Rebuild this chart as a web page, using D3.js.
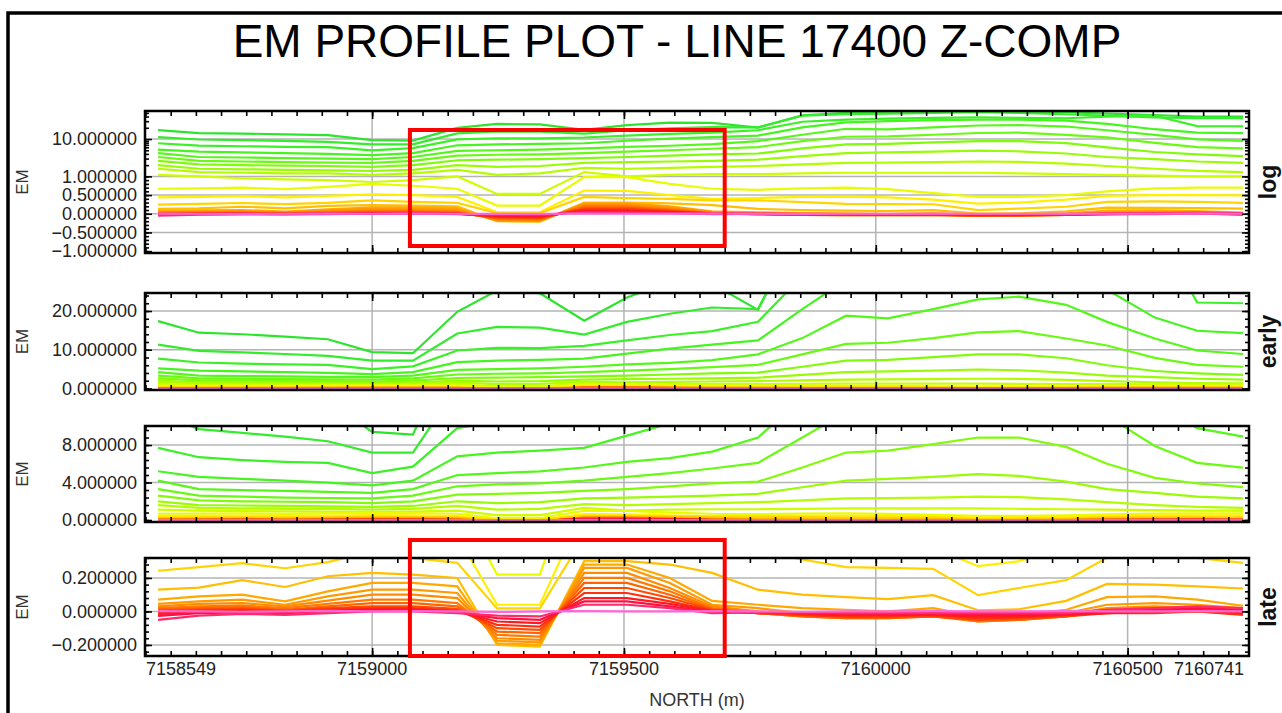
<!DOCTYPE html>
<html>
<head>
<meta charset="utf-8">
<script src="https://cdn.jsdelivr.net/npm/d3@7"></script>
<style>
  body { margin: 0; background: #fff; }
  text { font-family: "Liberation Sans", Arial, sans-serif; }
</style>
</head>
<body>
<svg id="chart" width="1282" height="713"></svg>
<script>
// station positions along the line (m)
const northing = [7158575, 7158656, 7158742, 7158827, 7158912, 7159000, 7159081, 7159169, 7159248,
  7159333, 7159421, 7159506, 7159591, 7159675, 7159766, 7159854, 7159941, 7160024, 7160114,
  7160203, 7160284, 7160378, 7160459, 7160554, 7160638, 7160729]
const xTickLabels = [7158549, 7159000, 7159500, 7160000, 7160500, 7160741]

// EM channels, early -> late
const ch01 = [17.4, 14.4, 14.0, 13.4, 12.7, 9.4, 9.1, 19.8, 25.3, 24.6, 17.5, 23.5, 27.5, 27, 20.3, 43, 50, 54, 56, 57, 55, 52, 48, 44, 40, 40]
const ch02 = [11.3, 9.7, 9.3, 8.9, 8.4, 7.2, 7.2, 14.2, 15.9, 15.7, 13.9, 17.2, 19.3, 20.9, 20.5, 42, 46, 48, 50, 52, 50, 46, 42, 38, 36, 36]
const ch03 = [7.7, 6.7, 6.4, 6.2, 6.1, 5.0, 5.7, 9.8, 10.5, 10.4, 11.0, 12.4, 13.8, 14.8, 17.2, 29, 33, 35, 37, 38, 37, 36, 40, 42, 22.2, 22.0]
const ch04 = [5.2, 4.6, 4.4, 4.2, 4.0, 3.7, 4.2, 6.8, 7.2, 7.4, 7.7, 9.0, 10.3, 11.3, 12.4, 20.5, 28, 30, 32, 33, 33, 31, 25.5, 18.3, 14.9, 14.3]
const ch05 = [4.2, 3.3, 3.2, 3.1, 3.0, 2.9, 3.3, 4.8, 5.0, 5.2, 5.6, 6.2, 6.6, 7.3, 8.8, 13.0, 18.8, 18.1, 20.5, 23.0, 23.7, 21.6, 17.2, 12.9, 9.8, 8.9]
const ch06 = [3.3, 2.6, 2.5, 2.4, 2.35, 2.3, 2.6, 3.6, 3.8, 3.9, 4.2, 4.6, 5.0, 5.5, 6.1, 8.8, 11.5, 11.8, 13.0, 14.5, 14.8, 12.9, 11.1, 7.9, 6.1, 5.6]
const ch07 = [2.6, 2.1, 2.0, 1.95, 1.9, 1.8, 2.0, 2.7, 2.8, 2.9, 3.1, 3.3, 3.6, 3.9, 4.1, 5.6, 7.2, 7.4, 8.1, 8.8, 8.8, 7.8, 6.0, 4.5, 3.9, 3.5]
const ch08 = [2.0, 1.6, 1.55, 1.5, 1.45, 1.4, 1.5, 2.0, 1.8, 1.9, 2.3, 2.4, 2.5, 2.6, 2.8, 3.5, 4.2, 4.4, 4.6, 4.9, 4.7, 4.1, 3.3, 2.9, 2.5, 2.3]
const ch09 = [1.6, 1.3, 1.25, 1.2, 1.2, 1.1, 1.2, 1.5, 1.1, 1.2, 1.7, 1.6, 1.7, 1.8, 1.9, 2.1, 2.3, 2.35, 2.4, 2.5, 2.45, 2.2, 1.9, 1.6, 1.4, 1.3]
const ch10 = [1.1, 1.0, 0.95, 0.92, 0.9, 0.85, 0.9, 1.0, 0.53, 0.53, 1.3, 1.0, 1.1, 1.15, 1.15, 1.2, 1.25, 1.25, 1.25, 1.25, 1.2, 1.15, 1.1, 1.05, 1.0, 1.0]
const ch11 = [0.67, 0.68, 0.7, 0.66, 0.72, 0.8, 0.75, 0.67, 0.22, 0.22, 0.98, 0.98, 0.8, 0.67, 0.64, 0.68, 0.7, 0.66, 0.55, 0.45, 0.45, 0.5, 0.6, 0.68, 0.7, 0.7]
const ch12 = [0.44, 0.45, 0.47, 0.44, 0.48, 0.52, 0.5, 0.45, 0.04, 0.04, 0.62, 0.61, 0.5, 0.4, 0.42, 0.45, 0.46, 0.44, 0.38, 0.27, 0.3, 0.38, 0.48, 0.5, 0.5, 0.49]
const ch13 = [0.243, 0.265, 0.288, 0.258, 0.294, 0.36, 0.32, 0.29, 0.018, 0.018, 0.45, 0.42, 0.4, 0.36, 0.36, 0.31, 0.265, 0.26, 0.254, 0.097, 0.14, 0.187, 0.32, 0.33, 0.32, 0.29]
const ch14 = [0.13, 0.142, 0.187, 0.146, 0.21, 0.23, 0.22, 0.2, -0.2, -0.21, 0.3, 0.3, 0.28, 0.23, 0.13, 0.1, 0.085, 0.074, 0.097, 0.007, 0.013, 0.063, 0.164, 0.16, 0.15, 0.137]
const ch15 = [0.07, 0.09, 0.1, 0.06, 0.12, 0.17, 0.17, 0.15, -0.19, -0.2, 0.28, 0.28, 0.2, 0.063, 0.04, 0.02, 0.01, 0.0, 0.02, -0.03, -0.02, 0.01, 0.085, 0.09, 0.07, 0.034]
const ch16 = [0.045, 0.06, 0.07, 0.04, 0.09, 0.13, 0.13, 0.11, -0.175, -0.185, 0.26, 0.26, 0.17, 0.04, 0.02, -0.01, -0.02, -0.02, -0.01, -0.05, -0.04, -0.01, 0.04, 0.05, 0.04, 0.02]
const ch17 = [0.03, 0.045, 0.05, 0.03, 0.065, 0.1, 0.1, 0.08, -0.16, -0.17, 0.23, 0.23, 0.14, 0.03, 0.0, -0.02, -0.03, -0.03, -0.02, -0.06, -0.05, -0.02, 0.02, 0.03, 0.02, 0.01]
const ch18 = [0.02, 0.03, 0.035, 0.02, 0.045, 0.07, 0.07, 0.05, -0.14, -0.15, 0.2, 0.2, 0.12, 0.02, -0.01, -0.03, -0.04, -0.04, -0.03, -0.06, -0.05, -0.03, 0.01, 0.02, 0.015, 0.0]
const ch19 = [0.012, 0.02, 0.025, 0.01, 0.03, 0.05, 0.05, 0.03, -0.12, -0.13, 0.17, 0.17, 0.1, 0.015, -0.01, -0.03, -0.04, -0.04, -0.03, -0.05, -0.05, -0.03, 0.0, 0.01, 0.01, -0.01]
const ch20 = [0.005, 0.012, 0.015, 0.005, 0.02, 0.03, 0.03, 0.015, -0.1, -0.11, 0.14, 0.14, 0.08, 0.01, -0.01, -0.02, -0.03, -0.03, -0.03, -0.05, -0.04, -0.03, -0.01, 0.0, 0.0, -0.015]
const ch21 = [-0.005, 0.005, 0.01, 0.0, 0.012, 0.02, 0.02, 0.005, -0.08, -0.09, 0.11, 0.11, 0.06, 0.005, -0.01, -0.02, -0.03, -0.03, -0.02, -0.04, -0.035, -0.02, -0.01, -0.01, 0.0, -0.02]
const ch22 = [-0.015, -0.005, 0.0, -0.005, 0.005, 0.012, 0.012, 0.0, -0.06, -0.07, 0.08, 0.08, 0.045, 0.0, -0.005, -0.01, -0.02, -0.02, -0.02, -0.03, -0.03, -0.02, -0.01, 0.0, 0.01, -0.01]
const ch23 = [-0.027, -0.01, -0.005, -0.01, 0.0, 0.006, 0.006, -0.005, -0.04, -0.05, 0.06, 0.06, 0.03, -0.005, -0.005, -0.01, -0.01, -0.015, -0.01, -0.02, -0.02, -0.015, 0.0, 0.01, 0.02, 0.01]
const ch24 = [-0.05, -0.025, -0.015, -0.02, -0.01, 0.0, 0.0, -0.01, -0.025, -0.03, 0.04, 0.04, 0.02, -0.01, -0.005, -0.005, -0.01, -0.01, -0.01, -0.01, -0.01, -0.01, 0.01, 0.02, 0.03, 0.02]
const ch25 = [0.002, 0.0, -0.002, 0.0, 0.003, 0.0, 0.002, 0.0, -0.003, 0.0, 0.002, 0.0, 0.0, 0.002, 0.0, -0.002, 0.0, 0.0, 0.002, 0.0, 0.0, 0.002, 0.0, 0.0, 0.002, 0.0]
const channels = [ch01, ch02, ch03, ch04, ch05, ch06, ch07, ch08, ch09, ch10, ch11, ch12, ch13,
  ch14, ch15, ch16, ch17, ch18, ch19, ch20, ch21, ch22, ch23, ch24, ch25]

const channelColors = ['#2de42d', '#33ec2b', '#3bf026', '#46f420', '#55f71a', '#68fa12', '#80fb0a',
  '#9afc04', '#b4fd00', '#cefd00', '#eafc00', '#fff000', '#ffd400', '#ffbe00', '#ffa800', '#ff9a00',
  '#ff8c00', '#ff7a00', '#ff6400', '#ff4a00', '#ff3010', '#ff1a20', '#ff1040', '#ff2a68', '#ff66dd']

// y tick labels per panel
const logTicks = [10, 1, 0.5, 0, -0.5, -1]
const earlyTicks = [0, 10, 20]
const midTicks = [0, 4, 8]
const lateTicks = [-0.2, 0, 0.2]

const W = 1282, H = 713
const left = 145, right = 1249

const svg = d3.select('#chart')

// outer frame (only left & top visible)
svg.append('path')
    .attr('d', `M8,${H}V13H${W}`)
    .attr('fill', 'none')
    .attr('stroke', '#000')
    .attr('stroke-width', 3.5)

svg.append('text')
    .attr('x', 677).attr('y', 57)
    .attr('text-anchor', 'middle')
    .attr('font-size', 46)
    .attr('fill', '#000')
    .text('EM PROFILE PLOT - LINE 17400 Z-COMP')

const x = d3.scaleLinear().domain([7158549, 7160741]).range([left, right])

const logFwd = v => Math.abs(v) <= 1 ? v : Math.sign(v) * (1 + Math.log10(Math.abs(v)))
const linFwd = v => v

const logMinor = d3.range(-10, 11).map(d => d / 10)
    .concat([2, 3, 4, 5, 6, 7, 8, 9, 20, 30, 40, 50])

const panels = [
    { top: 111, bottom: 253, fwd: logFwd, domain: [-1.05, 2.75], ticks: logTicks,
      grid: [10, 1, 0.5, 0, -0.5], minor: logMinor, label: 'log' },
    { top: 293, bottom: 390, fwd: linFwd, domain: [-0.4, 24.65], ticks: earlyTicks,
      grid: [10, 20], minor: d3.range(0, 25, 2), label: 'early' },
    { top: 426, bottom: 522, fwd: linFwd, domain: [-0.21, 10.03], ticks: midTicks,
      grid: [4, 8], minor: d3.range(0, 10.01, 0.8), label: '' },
    { top: 558, bottom: 656, fwd: linFwd, domain: [-0.266, 0.319], ticks: lateTicks,
      grid: [-0.2, 0, 0.2], minor: d3.range(-0.24, 0.32, 0.04), label: 'late' }
]

const xGrid = [7159000, 7159500, 7160000, 7160500]
const xMinor = d3.range(7158550, 7160741, 50)

panels.forEach((p, k) => {
    const ys = d3.scaleLinear().domain(p.domain).range([p.bottom, p.top])
    const y = v => ys(p.fwd(v))
    const g = svg.append('g')

    g.append('clipPath').attr('id', 'clip' + k)
        .append('rect')
        .attr('x', left).attr('y', p.top)
        .attr('width', right - left).attr('height', p.bottom - p.top)

    // grid
    g.append('g').selectAll('line').data(p.grid).join('line')
        .attr('x1', left).attr('x2', right)
        .attr('y1', d => y(d)).attr('y2', d => y(d))
        .attr('stroke', '#b4b4b4').attr('stroke-width', 1.5)
    g.append('g').selectAll('line').data(xGrid).join('line')
        .attr('x1', d => x(d)).attr('x2', d => x(d))
        .attr('y1', p.top).attr('y2', p.bottom)
        .attr('stroke', '#b4b4b4').attr('stroke-width', 1.5)

    // channel profiles
    const line = d3.line()
        .defined(d => d != null)
        .x((d, i) => x(northing[i]))
        .y(d => y(d))
    g.append('g').attr('clip-path', `url(#clip${k})`)
        .selectAll('path').data(channels).join('path')
        .attr('d', line)
        .attr('fill', 'none')
        .attr('stroke', (d, i) => channelColors[i])
        .attr('stroke-width', 2.2)

    // inward ticks on all four sides
    const tickAxis = (axis, tx, ty, vals, size) => {
        const a = g.append('g').attr('transform', `translate(${tx},${ty})`)
            .call(axis.tickValues(vals).tickSize(size).tickFormat(''))
        a.select('.domain').remove()
        a.selectAll('line').attr('stroke', '#000').attr('stroke-width', 1.6)
    }
    const minorT = p.minor.map(p.fwd)
    const majorT = p.ticks.map(p.fwd)
    tickAxis(d3.axisRight(ys), left, 0, minorT, 4)
    tickAxis(d3.axisRight(ys), left, 0, majorT, 7)
    tickAxis(d3.axisLeft(ys), right, 0, minorT, 4)
    tickAxis(d3.axisLeft(ys), right, 0, majorT, 7)
    tickAxis(d3.axisBottom(x), 0, p.top, xMinor, 5)
    tickAxis(d3.axisBottom(x), 0, p.top, xGrid, 8)
    tickAxis(d3.axisTop(x), 0, p.bottom, xMinor, 5)
    tickAxis(d3.axisTop(x), 0, p.bottom, xGrid, 8)

    // y labels
    const ax = g.append('g').attr('transform', `translate(${left},0)`)
        .call(d3.axisLeft(ys).tickValues(majorT).tickSize(0).tickPadding(8)
            .tickFormat((d, i) => d3.format('.6f')(p.ticks[i])))
    ax.select('.domain').remove()
    ax.selectAll('text')
        .attr('font-family', '"Liberation Sans", Arial, sans-serif')
        .attr('font-size', 18).attr('fill', '#222')

    // frame
    g.append('rect')
        .attr('x', left).attr('y', p.top)
        .attr('width', right - left).attr('height', p.bottom - p.top)
        .attr('fill', 'none').attr('stroke', '#000').attr('stroke-width', 2.5)

    const cy = (p.top + p.bottom) / 2
    g.append('text')
        .attr('transform', `translate(22,${cy}) rotate(-90)`)
        .attr('text-anchor', 'middle').attr('dy', '0.35em')
        .attr('font-size', 17).attr('fill', '#333')
        .text('EM')
    if (p.label) {
        g.append('text')
            .attr('transform', `translate(1268,${cy}) rotate(-90)`)
            .attr('text-anchor', 'middle').attr('dy', '0.35em')
            .attr('font-size', 23).attr('font-weight', 'bold').attr('fill', '#111')
            .text(p.label)
    }
})

// x labels under the last panel
const last = panels[panels.length - 1]
svg.append('g').selectAll('text').data(xTickLabels).join('text')
    .attr('x', (d, i) => i === 0 ? x(d) + 1 : i === xTickLabels.length - 1 ? x(d) - 5 : x(d))
    .attr('y', last.bottom + 19)
    .attr('text-anchor', (d, i) => i === 0 ? 'start' : i === xTickLabels.length - 1 ? 'end' : 'middle')
    .attr('font-size', 18).attr('fill', '#222')
    .text(d => d)

svg.append('text')
    .attr('x', 697).attr('y', 706)
    .attr('text-anchor', 'middle')
    .attr('font-size', 18).attr('fill', '#333')
    .text('NORTH (m)')

// highlight boxes around the anomaly
const boxX = [7159075, 7159700]
const boxes = [[130, 246], [540, 656]]
svg.append('g').selectAll('rect').data(boxes).join('rect')
    .attr('x', x(boxX[0])).attr('y', d => d[0])
    .attr('width', x(boxX[1]) - x(boxX[0])).attr('height', d => d[1] - d[0])
    .attr('fill', 'none').attr('stroke', '#ff0000').attr('stroke-width', 4)
</script>
</body>
</html>
